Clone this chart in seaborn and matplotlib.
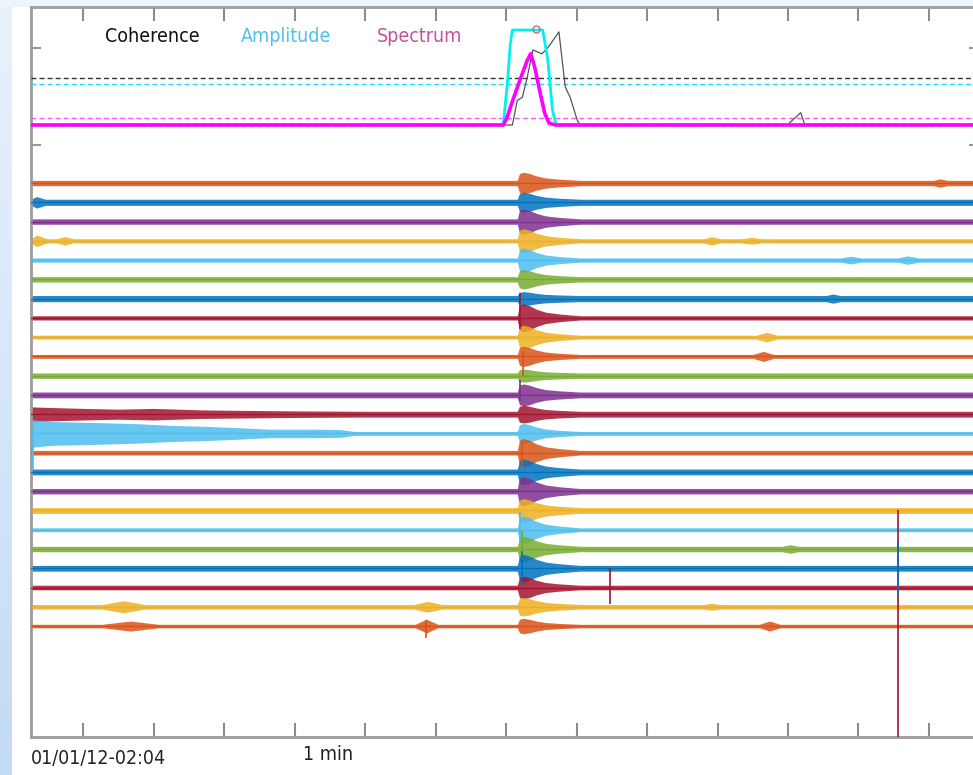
import numpy as np
import pandas as pd
import matplotlib
matplotlib.use("Agg")
import matplotlib.pyplot as plt
import seaborn as sns

sns.set_style("white")
plt.rcParams['font.family'] = ['DejaVu Sans']

# time axis (seconds), ticks every 10 s
tick_s = list(range(0, 130, 10))
t_start, t_end = -7.4, 127.1

# trace colours (top to bottom)
palette = {"blue": "#0072BD", "orange": "#D95319", "yellow": "#EDB120", "purple": "#7E2F8E",
           "green": "#77AC30", "lightblue": "#4DBEEE", "darkred": "#A2142F"}
trace_colors = ["orange", "blue", "purple", "yellow", "lightblue", "green", "blue", "darkred",
                "yellow", "orange", "green", "purple", "darkred", "lightblue", "orange", "blue",
                "purple", "yellow", "lightblue", "green", "blue", "darkred", "yellow", "orange"]

# half amplitude of background noise, in trace spacings
noise_amp = [0.14, 0.16, 0.14, 0.11, 0.11, 0.14, 0.16, 0.11, 0.10, 0.10, 0.14, 0.15,
             0.15, 0.10, 0.12, 0.15, 0.14, 0.15, 0.10, 0.14, 0.15, 0.12, 0.12, 0.09]
# half amplitude of the event arrival
event_amp = [0.42, 0.36, 0.52, 0.52, 0.52, 0.36, 0.20, 0.62, 0.52, 0.42, 0.20, 0.42,
             0.31, 0.42, 0.62, 0.52, 0.62, 0.47, 0.62, 0.52, 0.57, 0.47, 0.36, 0.31]
event_t = [61.6, 61.9, 62.5, 63.3, 64.3, 65.6, 67.5, 70.5]
event_shape = [0.0, 0.85, 1.0, 0.85, 0.55, 0.3, 0.15, 0.0]

# local bursts: trace, time, half width, amplitude
bursts = [(2, -6.6, 1.2, 0.30), (4, -6.6, 1.5, 0.30), (4, -2.6, 1.2, 0.22),
          (23, 5.7, 3.0, 0.31), (24, 6.7, 4.0, 0.26), (23, 48.9, 2.0, 0.28),
          (24, 48.7, 1.6, 0.36), (4, 89.2, 1.2, 0.22), (4, 94.8, 1.5, 0.18),
          (9, 97.0, 1.5, 0.25), (10, 96.5, 1.5, 0.26), (23, 89.2, 1.2, 0.18),
          (24, 97.4, 1.5, 0.26), (5, 108.9, 1.5, 0.20), (5, 117.0, 1.5, 0.22),
          (20, 100.3, 1.2, 0.22), (7, 106.4, 1.0, 0.24), (1, 121.6, 1.0, 0.22)]

# slowly decaying noise at the left of traces 13 and 14
left13_t = [-7.4, -4.0, 0.0, 5.0, 10.0, 17.0, 22.0, 30.0, 40.0]
left13_a = [0.38, 0.34, 0.30, 0.26, 0.30, 0.22, 0.20, 0.17, 0.15]
left14_t = [-7.4, -4.5, 2.4, 8.0, 12.3, 16.6, 22.0, 26.5, 33.0, 36.5, 38.5]
left14_a = [0.72, 0.62, 0.56, 0.50, 0.42, 0.38, 0.30, 0.22, 0.22, 0.20, 0.10]

# spikes: trace, time, up, down
spikes = [(8, 62.0, 1.3, 0.6), (10, 62.4, 0.3, 1.0), (12, 62.0, 0.8, 0.3),
          (15, 62.2, 0.5, 0.8), (19, 62.0, 0.9, 0.6), (20, 62.2, 1.0, 0.5),
          (21, 62.2, 0.9, 0.9), (22, 74.8, 1.0, 0.85), (22, 115.6, 4.0, 9.0),
          (21, 115.6, 1.4, 1.4), (14, -7.1, 0.3, 1.9), (24, 48.7, 0.3, 0.6)]

# detection panel (0 = baseline, 1 = saturation)
coh_t = [t_start, 59.6, 60.9, 61.6, 62.3, 63.0, 63.8, 65.1, 66.0, 67.5, 68.4, 69.1, 70.1, 70.5,
         99.9, 101.8, 102.4, t_end]
coh_v = [0, 0, 0, 0.26, 0.29, 0.50, 0.79, 0.75, 0.82, 0.98, 0.40, 0.29, 0.05, 0,
         0, 0.13, 0, 0]
amp_t = [t_start, 59.6, 60.2, 60.6, 60.9, 65.2, 65.9, 66.6, 67.1, t_end]
amp_v = [0, 0, 0.45, 0.85, 1.0, 1.0, 0.7, 0.15, 0, 0]
spec_t = [t_start, 59.6, 60.1, 60.9, 62.0, 63.0, 63.5, 64.1, 64.8, 65.5, 66.1, 67.0, t_end]
spec_v = [0, 0, 0.07, 0.25, 0.48, 0.68, 0.75, 0.60, 0.35, 0.12, 0.02, 0, 0]
thr_coh, thr_amp, thr_spec = 0.495, 0.43, 0.074
pick_t, pick_v = 64.3, 1.01

fig = plt.figure(figsize=(9.73, 7.75), dpi=100)
fig.patch.set_facecolor("white")

# light blue frame of the slide
strip = fig.add_axes([0, 0, 12 / 973, 1])
strip.imshow(np.linspace(0, 1, 100)[:, None], aspect="auto",
             cmap=matplotlib.colors.LinearSegmentedColormap.from_list("s", ["#e9f2fc", "#c4dbf6"]))
strip.axis("off")
topstrip = fig.add_axes([0, 1 - 7 / 775, 1, 7 / 775])
topstrip.set_facecolor("#edf4fc")
topstrip.set_xticks([]); topstrip.set_yticks([])
for s in topstrip.spines.values():
    s.set_visible(False)

ax = fig.add_axes([31 / 973, 1 - 737 / 775, 948 / 973, 730 / 775])
ax.set_xlim(t_start, t_end)
ax.set_ylim(29.76, -8.14)

for i, cname in enumerate(trace_colors):
    k = i + 1
    col = palette[cname]
    pts = [(t_start, noise_amp[i]), (t_end, noise_amp[i])]
    pts += [(t, noise_amp[i] + event_amp[i] * s) for t, s in zip(event_t, event_shape)]
    for tr, tc, hw, a in bursts:
        if tr == k:
            pts += [(tc - hw, noise_amp[i]), (tc, a), (tc + hw, noise_amp[i])]
    if k == 13:
        pts = [p for p in pts if p[0] > left13_t[-1]] + list(zip(left13_t, left13_a))
    if k == 14:
        pts = [p for p in pts if p[0] > left14_t[-1]] + list(zip(left14_t, left14_a))
    pts.sort()
    tt = np.array([p[0] for p in pts])
    aa = np.array([p[1] for p in pts])
    ax.fill_between(tt, k - aa, k + aa, color=col, lw=0, alpha=0.85, zorder=2)
    ax.plot(tt, np.full(len(tt), k), color=col, lw=1.0, zorder=3)

for tr, tc, up, down in spikes:
    ax.vlines(tc, tr - up, tr + down, color=palette[trace_colors[tr - 1]], lw=1.2, zorder=4)

ax.set_xticks(tick_s)
ax.set_yticks([-6, -1])
ax.tick_params(axis="x", direction="in", length=10, width=1.5, color="#8c8c8c",
               top=True, bottom=True, labelbottom=False)
ax.tick_params(axis="y", direction="in", length=7, width=1.5, color="#9a9a9a",
               left=True, right=True, labelleft=False)
for side in ["left", "top", "bottom"]:
    ax.spines[side].set_color("#9c9c9c")
    ax.spines[side].set_linewidth(2)
ax.spines["right"].set_visible(False)

# detection panel overlay
det = fig.add_axes([31 / 973, 1 - 145 / 775, 948 / 973, 138 / 775], sharex=ax)
det.patch.set_visible(False)
det.set_ylim(-0.2105, 1.242)
det.axis("off")
for v, c in [(thr_coh, "#333333"), (thr_amp, "#22e0e8"), (thr_spec, "#ff55ff")]:
    det.axhline(v, color=c, lw=1.0, ls=(0, (3.6, 2.2)), zorder=1)
sns.lineplot(x=coh_t, y=coh_v, ax=det, color="#555555", lw=0.9, sort=False, zorder=2)
sns.lineplot(x=amp_t, y=amp_v, ax=det, color="#00f0f0", lw=2.0, sort=False, zorder=3)
sns.lineplot(x=spec_t, y=spec_v, ax=det, color="#ff00ff", lw=2.6, sort=False, zorder=4)
det.plot([pick_t], [pick_v], "o", mfc="none", mec="#e06666", ms=5, mew=1, zorder=5)
det.set_xlim(t_start, t_end)

lab = dict(fontsize=14, fontstretch="condensed", va="center")
fig.text(152.5 / 973, 1 - 37 / 775, "Coherence", color="#111111", ha="center", **lab)
fig.text(286.5 / 973, 1 - 37 / 775, "Amplitude", color="#52c0ee", ha="center", **lab)
fig.text(420 / 973, 1 - 37 / 775, "Spectrum", color="#c2549f", ha="center", **lab)

fig.text(31 / 973, 1 - 759 / 775, "01/01/12-02:04", color="#222222", ha="left", **lab)
fig.text(328 / 973, 1 - 755 / 775, "1 min", color="#222222", ha="center", **lab)

fig.savefig("out.png", dpi=100)
